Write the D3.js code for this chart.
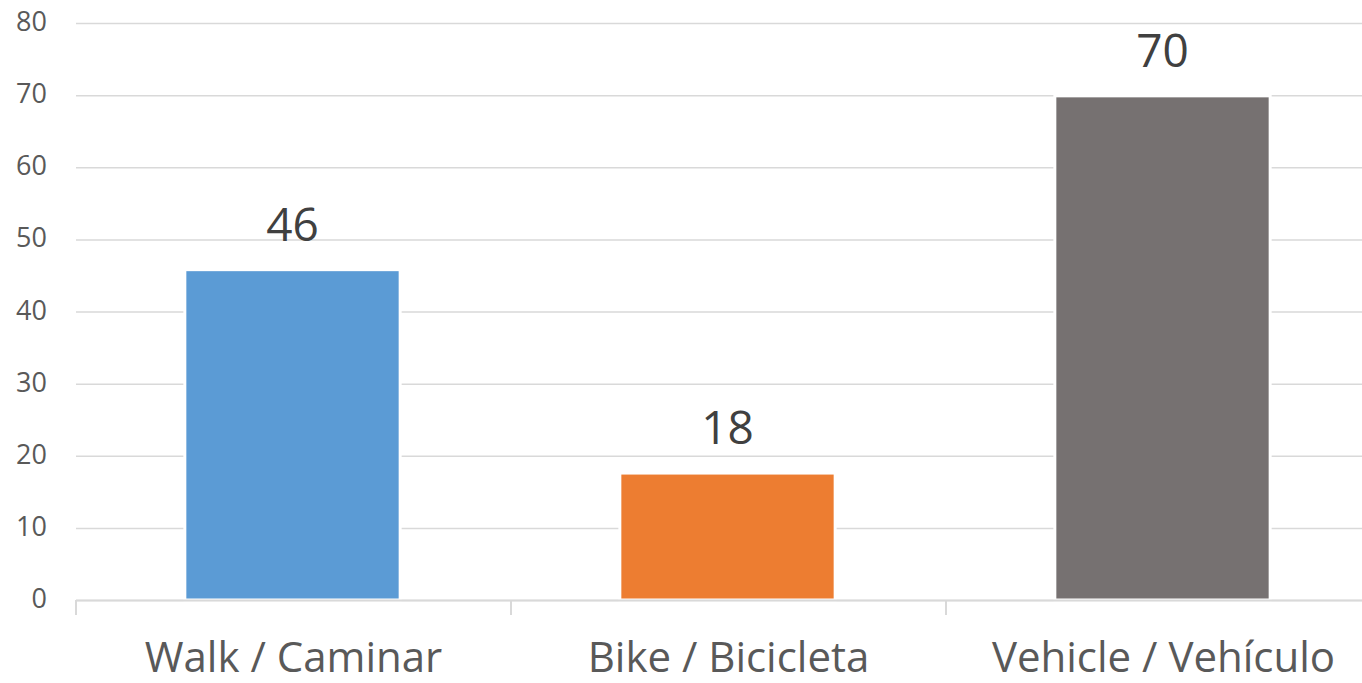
<!DOCTYPE html>
<html>
  <head>
    <meta charset="utf-8">
    <style>
      body { margin: 0; background: #fff; }
      text { font-family: "Open Sans", "DejaVu Sans", sans-serif; }
      .grid line { stroke: #d9d9d9; stroke-width: 1.5; }
      .grid .domain { display: none; }
      .grid text { fill: #595959; font-size: 27px; }
    </style>
    <script src="https://cdnjs.cloudflare.com/ajax/libs/d3/7.8.5/d3.min.js"></script>
  </head>
  <body>
    <svg width="1362" height="683" id="SVG"></svg>
    <script>
      var categories = ["Walk / Caminar", "Bike / Bicicleta", "Vehicle / Vehículo"];
      var values = [45.8, 17.6, 69.9];
      var barColors = ["#5b9bd5", "#ed7d31", "#767171"];
      var yTicks = [0, 10, 20, 30, 40, 50, 60, 70, 80];

      var svg = d3.select("#SVG");

      var plotLeft = 76, plotRight = 1381, plotTop = 23, plotBottom = 600;
      var plotWidth = plotRight - plotLeft;

      var x = d3.scaleBand()
                .domain(categories)
                .range([plotLeft, plotRight])
                .paddingInner(0.505)
                .paddingOuter(0.2525);
      var y = d3.scaleLinear().domain([0, 80]).range([plotBottom, plotTop]);

      // gridlines + y labels
      svg.append("g")
         .attr("class", "grid")
         .attr("transform", "translate(" + plotLeft + ",0)")
         .call(d3.axisLeft(y).tickValues(yTicks).tickSize(-plotWidth).tickPadding(29))
         .selectAll(".tick text")
         .attr("dy", "0.28em");

      // bars
      svg.selectAll(".bar")
         .data(values)
         .enter()
         .append("rect")
         .attr("class", "bar")
         .attr("x", function(d, i) { return x(categories[i]) - 1 })
         .attr("y", function(d) { return y(d) })
         .attr("width", x.bandwidth())
         .attr("height", function(d) { return y(0) - y(d) })
         .attr("fill", function(d, i) { return barColors[i] })
         .attr("stroke", "#fff")
         .attr("stroke-width", 3);

      // x axis line and tick marks at category boundaries
      svg.append("line")
         .attr("x1", plotLeft).attr("x2", plotRight)
         .attr("y1", y(0) + 0.5).attr("y2", y(0) + 0.5)
         .attr("stroke", "#d9d9d9").attr("stroke-width", 2);

      var bounds = d3.range(categories.length + 1).map(function(i) { return plotLeft + i * x.step() });
      svg.selectAll(".xtick")
         .data(bounds)
         .enter()
         .append("line")
         .attr("class", "xtick")
         .attr("x1", function(d) { return d }).attr("x2", function(d) { return d })
         .attr("y1", y(0)).attr("y2", y(0) + 15)
         .attr("stroke", "#d9d9d9").attr("stroke-width", 2);

      // category labels
      svg.selectAll(".xlabel")
         .data(categories)
         .enter()
         .append("text")
         .attr("class", "xlabel")
         .attr("x", function(d) { return x(d) + x.bandwidth() / 2 })
         .attr("y", 672)
         .attr("text-anchor", "middle")
         .attr("fill", "#595959")
         .style("font-size", "42px")
         .text(function(d) { return d });

      // data labels
      svg.selectAll(".bartext")
         .data(values)
         .enter()
         .append("text")
         .attr("class", "bartext")
         .attr("x", function(d, i) { return x(categories[i]) + x.bandwidth() / 2 - 1 })
         .attr("y", function(d) { return y(d) - 29 })
         .attr("text-anchor", "middle")
         .attr("fill", "#404040")
         .style("font-size", "46px")
         .text(function(d) { return d3.format(".0f")(d) });
    </script>
  </body>
</html>
